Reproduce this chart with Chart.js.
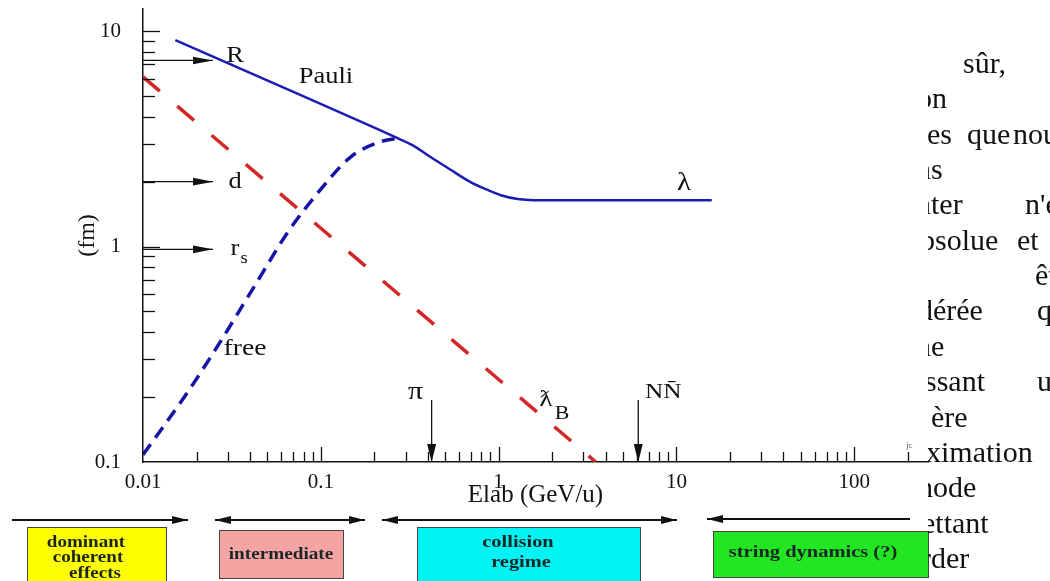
<!DOCTYPE html>
<html>
<head>
<meta charset="utf-8">
<script src="https://cdn.jsdelivr.net/npm/chart.js@4.4.1/dist/chart.umd.min.js"></script>
<style>
  body { margin: 0; background: #fff; }
  #wrap { position: relative; width: 1050px; height: 581px; overflow: hidden; }
  #c { position: absolute; left: 0; top: 0; }
  #page { position: absolute; left: 928px; top: 0; width: 122px; height: 581px; overflow: hidden;
          font-family: 'Liberation Serif', 'DejaVu Serif', serif; font-size: 30px; color: #111; }
  #page span { position: absolute; line-height: 30px; white-space: nowrap; }
  #jc { position: absolute; left: 906px; top: 440px; font: 9px 'Liberation Serif', serif; color: #555; }
</style>
</head>
<body>
<div id="wrap">
  <canvas id="c" width="1050" height="581"></canvas>
  <span id="jc">jc</span>
  <div id="page"></div>
</div>
<script>
//=================Data===================//
// energy axis (GeV/u) and length axis (fm)
var xTickValues = [0.01, 0.1, 1, 10, 100];
var yTickValues = [0.1, 1, 10];

// lambda (Pauli) - solid blue
var lambdaE  = [0.0152, 0.0766, 0.200, 0.270, 0.340, 0.414, 0.537, 0.695, 0.867, 1.03, 1.28, 1.57, 15.8];
var lambdaFm = [9.08,   5.05,   3.56,  3.18,  2.90,  2.60,  2.27,  1.99,  1.83,  1.73, 1.66, 1.64, 1.64];

// free - dashed blue
var freeE  = [0.01,  0.0177, 0.0261, 0.0445, 0.0648, 0.0993, 0.147, 0.216, 0.270];
var freeFm = [0.108, 0.209,  0.342,  0.700,  1.156,  1.83,   2.60,  3.06,  3.18];

// reduced de Broglie wavelength - dashed red
var lambdaBE  = [0.01, 3.52];
var lambdaBFm = [6.12, 0.1];

// scale markers on the left
var scaleNames = ['R', 'd', 'r'];
var scaleFm = [7.3, 2.0, 0.97];

// thresholds
var thresholdNames = ['\u03C0', 'NN\u0304'];
var thresholdE = [0.42, 6.1];

// regimes
var regimeNames = [['dominant', 'coherent', 'effects'], ['intermediate'], ['collision', 'regime'], ['string dynamics (?)']];
var regimeColors = ['#ffff00', '#f5a3a3', '#00f4f4', '#22e622'];

// clipped page text on the right
var pageLines = [
  [73,  [[963, 'sûr,']]],
  [108, [[917, 'on']]],
  [144, [[927, 'es'], [967, 'que'], [1013, 'nous']]],
  [179, [[916, 'ns']]],
  [214, [[916, 'nter'], [1025, "n'est"]]],
  [250, [[920, 'bsolue'], [1017, 'et']]],
  [285, [[1035, 'être']]],
  [320, [[918, 'dérée'], [1037, 'que']]],
  [356, [[916, 'ne']]],
  [391, [[925, 'ssant'], [1037, 'un']]],
  [427, [[931, 'ère']]],
  [462, [[926, 'ximation']]],
  [497, [[918, 'hode']]],
  [533, [[922, 'ettant']]],
  [568, [[921, 'rder']]]
];

//=================Helpers=================//
var SERIF = "'Liberation Serif', 'DejaVu Serif', serif";

function toPoints(xs, ys) {
  return xs.map(function (x, i) { return {x: x, y: ys[i]}; });
}

function txt(ctx, s, x, y, font, align, sx) {
  ctx.save();
  ctx.translate(x, y);
  ctx.scale(sx || 1.15, 1);
  ctx.font = font;
  ctx.textAlign = align || 'center';
  ctx.textBaseline = 'middle';
  ctx.fillStyle = '#111';
  ctx.fillText(s, 0, 0);
  ctx.restore();
}

function head(ctx, x, y, dx, dy, len, w) {
  // filled arrow head with tip at x,y pointing along dx,dy
  var bx = x - dx * len, by = y - dy * len;
  ctx.beginPath();
  ctx.moveTo(x, y);
  ctx.lineTo(bx - dy * w, by + dx * w);
  ctx.lineTo(bx + dy * w, by - dx * w);
  ctx.closePath();
  ctx.fill();
}

function arrow(ctx, x1, y1, x2, y2, len, w, both) {
  var L = Math.hypot(x2 - x1, y2 - y1);
  var dx = (x2 - x1) / L, dy = (y2 - y1) / L;
  ctx.beginPath();
  ctx.moveTo(x1, y1);
  ctx.lineTo(x2, y2);
  ctx.stroke();
  head(ctx, x2, y2, dx, dy, len, w);
  if (both) head(ctx, x1, y1, -dx, -dy, len, w);
}

//=================Plugin==================//
var overlay = {
  id: 'overlay',
  afterDraw: function (chart) {
    var ctx = chart.ctx;
    var xs = chart.scales.x, ys = chart.scales.y;
    var area = chart.chartArea;
    ctx.save();
    ctx.strokeStyle = '#111';
    ctx.fillStyle = '#111';
    ctx.lineWidth = 1.3;

    // inward log ticks
    for (var d = -2; d <= 2; d++) {
      for (var k = 1; k <= 9; k++) {
        var v = k * Math.pow(10, d);
        if (v <= xs.min * 1.0001 || v > xs.max) continue;
        var px = Math.round(xs.getPixelForValue(v)) + 0.5;
        ctx.beginPath();
        ctx.moveTo(px, area.bottom);
        ctx.lineTo(px, area.bottom - (k === 1 ? 15 : 10));
        ctx.stroke();
      }
    }
    for (var d2 = -1; d2 <= 1; d2++) {
      for (var k2 = 1; k2 <= 9; k2++) {
        var v2 = k2 * Math.pow(10, d2);
        if (v2 <= ys.min * 1.0001 || v2 > ys.max) continue;
        var py = Math.round(ys.getPixelForValue(v2)) + 0.5;
        ctx.beginPath();
        ctx.moveTo(area.left, py);
        ctx.lineTo(area.left + (k2 === 1 ? 17 : 12), py);
        ctx.stroke();
      }
    }

    // length scale arrows R, d, r_s
    for (var i = 0; i < scaleNames.length; i++) {
      var sy = ys.getPixelForValue(scaleFm[i]);
      arrow(ctx, area.left, sy, area.left + 70, sy, 20, 3.8);
      txt(ctx, scaleNames[i], area.left + 92, sy - (i === 0 ? 5 : 0), '23px ' + SERIF);
    }
    txt(ctx, 's', area.left + 101, ys.getPixelForValue(scaleFm[2]) + 9, '16px ' + SERIF);

    // threshold arrows
    var labelDx = [-16, 25];
    for (var j = 0; j < thresholdE.length; j++) {
      var tx = xs.getPixelForValue(thresholdE[j]);
      arrow(ctx, tx, area.bottom - 62, tx, area.bottom, 18, 4.5);
      txt(ctx, thresholdNames[j], tx + labelDx[j], area.bottom - 70, (j === 0 ? '26px ' : '22px ') + SERIF);
    }

    // curve labels
    txt(ctx, 'Pauli', 326, 77, '23px ' + SERIF);
    txt(ctx, '\u03BB', 684, 183, '25px ' + SERIF);
    txt(ctx, 'free', 245, 349, '24px ' + SERIF);
    txt(ctx, '\u019B', 546, 400, '24px ' + SERIF);
    txt(ctx, 'B', 562, 414, '19px ' + SERIF);

    // regime arrows
    ctx.lineWidth = 2;
    arrow(ctx, 12, 520, 188, 520, 16, 4, false);
    arrow(ctx, 215, 520, 365, 520, 16, 4, true);
    arrow(ctx, 382, 520, 677, 520, 16, 4, true);
    arrow(ctx, 910, 519, 707, 519, 16, 4, false);

    // regime boxes
    var boxes = [[27, 527, 139, 60], [219, 530, 124, 48], [417, 527, 223, 54], [713, 531, 215, 46]];
    var textPos = [
      [[86, 543], [88, 558], [95, 574]],
      [[281, 555]],
      [[518, 543], [521, 563]],
      [[813, 553]]
    ];
    var textScale = [1.12, 1.13, 1.2, 1.28];
    ctx.lineWidth = 1;
    ctx.strokeStyle = '#444';
    for (var b = 0; b < boxes.length; b++) {
      var bx = boxes[b];
      ctx.fillStyle = regimeColors[b];
      ctx.fillRect(bx[0], bx[1], bx[2], bx[3]);
      ctx.strokeRect(bx[0] + 0.5, bx[1] + 0.5, bx[2], bx[3]);
      for (var t = 0; t < regimeNames[b].length; t++) {
        ctx.save();
        ctx.translate(textPos[b][t][0], textPos[b][t][1]);
        ctx.scale(textScale[b], 1);
        ctx.font = 'bold ' + (b === 3 ? 16 : 17) + 'px ' + SERIF;
        ctx.textAlign = 'center';
        ctx.textBaseline = 'middle';
        ctx.fillStyle = '#1a2626';
        ctx.fillText(regimeNames[b][t], 0, 0);
        ctx.restore();
      }
    }
    ctx.restore();
  }
};

//=================Chart===================//
var ctx = document.getElementById('c').getContext('2d');
var lengthChart = new Chart(ctx, {
  type: 'line',
  data: {
    datasets: [{
      label: 'lambda',
      data: toPoints(lambdaE, lambdaFm),
      borderColor: '#1c1cb2',
      borderWidth: 2.5,
      pointRadius: 0,
      cubicInterpolationMode: 'monotone',
      fill: false
    }, {
      label: 'free',
      data: toPoints(freeE, freeFm),
      borderColor: '#1414a6',
      borderWidth: 3.5,
      borderDash: [13, 8],
      pointRadius: 0,
      cubicInterpolationMode: 'monotone',
      fill: false
    }, {
      label: 'lambdaB',
      data: toPoints(lambdaBE, lambdaBFm),
      borderColor: '#d42626',
      borderWidth: 3.5,
      borderDash: [22, 23],
      pointRadius: 0,
      fill: false
    }]
  },
  options: {
    responsive: false,
    animation: false,
    devicePixelRatio: 1,
    layout: {padding: {left: 73, top: 9, right: 122, bottom: 71}},
    plugins: {legend: {display: false}, tooltip: {enabled: false}},
    scales: {
      x: {
        type: 'logarithmic',
        min: 0.01,
        max: 260,
        afterBuildTicks: function (s) { s.ticks = xTickValues.map(function (v) { return {value: v}; }); },
        afterFit: function (s) { s.height = 48; s.paddingLeft = 0; s.paddingRight = 0; },
        grid: {display: false},
        border: {display: true, color: '#111', width: 1.5},
        ticks: {
          autoSkip: false, maxRotation: 0, padding: 0, color: '#111',
          font: {family: SERIF, size: 21},
          callback: function (v) { return String(v); }
        },
        title: {display: true, text: 'Elab (GeV/u)', color: '#111', padding: 0, font: {family: SERIF, size: 25}}
      },
      y: {
        type: 'logarithmic',
        min: 0.1,
        max: 12.65,
        afterBuildTicks: function (s) { s.ticks = yTickValues.map(function (v) { return {value: v}; }); },
        afterFit: function (s) { s.width = 70; s.paddingTop = 0; s.paddingBottom = 0; },
        grid: {display: false},
        border: {display: true, color: '#111', width: 1.5},
        ticks: {
          autoSkip: false, padding: 14, color: '#111',
          font: {family: SERIF, size: 21},
          callback: function (v) { return String(v); }
        },
        title: {display: true, text: '(fm)', color: '#111', padding: 0, font: {family: SERIF, size: 24}}
      }
    }
  },
  plugins: [overlay]
});

//=================Page text===================//
var page = document.getElementById('page');
pageLines.forEach(function (line) {
  line[1].forEach(function (chunk) {
    var span = document.createElement('span');
    span.textContent = chunk[1];
    span.style.left = (chunk[0] - 928) + 'px';
    span.style.top = (line[0] - 25) + 'px';
    page.appendChild(span);
  });
});
</script>
</body>
</html>
